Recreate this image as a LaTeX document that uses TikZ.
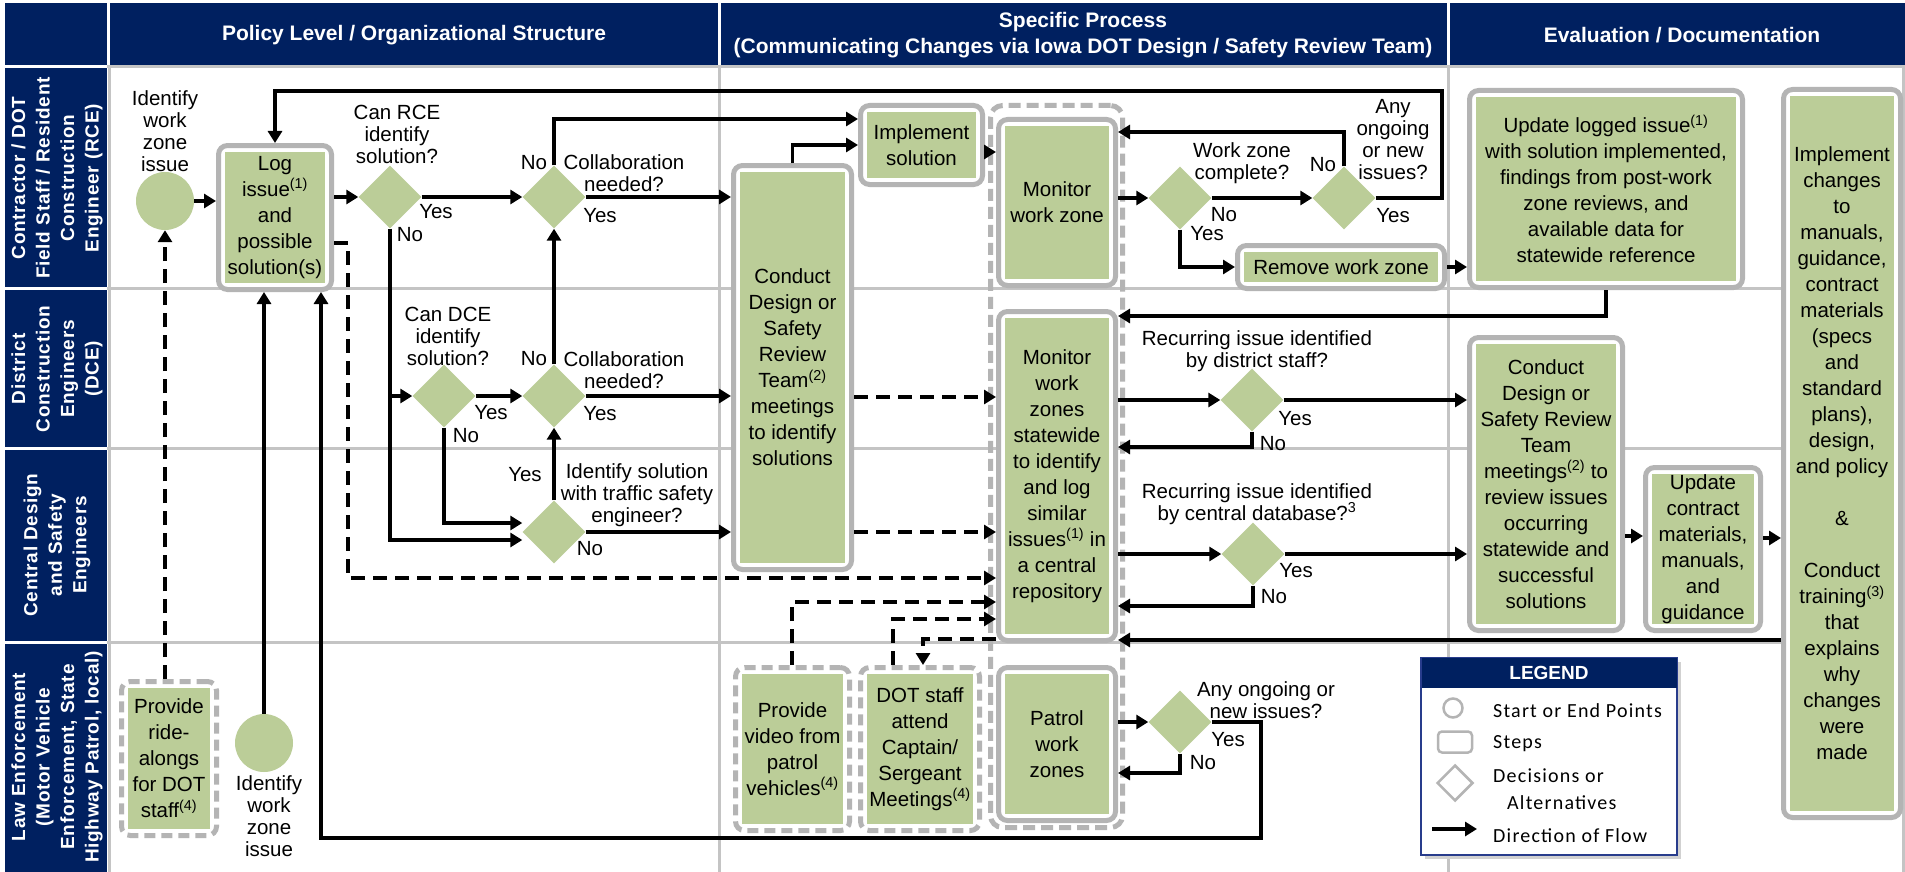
\documentclass[tikz,border=0pt]{standalone}
\usepackage{fontspec}
\setmainfont{Liberation Sans}
\newfontfamily\legfont[LetterSpace=6]{Carlito}
\newfontfamily\lanefont[LetterSpace=4]{Liberation Sans}
\usetikzlibrary{arrows.meta,shapes.geometric,calc}
\definecolor{navy}{RGB}{0,32,96}
\definecolor{grn}{RGB}{187,205,152}
\definecolor{bgray}{RGB}{180,180,180}
\definecolor{lgray}{RGB}{196,196,196}
\definecolor{legblue}{RGB}{40,60,140}
\begin{document}
\begin{tikzpicture}[x=1pt,y=-1pt,
  stepbox/.style={rectangle, draw=bgray, line width=5pt, fill=white, rounded corners=9pt,
    inner sep=0pt, align=center, font=\fontsize{20.5}{26}\selectfont,
    path picture={\fill[grn, sharp corners] ([shift={(6.5pt,6.5pt)}]path picture bounding box.south west)
      rectangle ([shift={(-6.5pt,-6.5pt)}]path picture bounding box.north east);}},
  dashbox/.style={stepbox, dash pattern=on 11pt off 6pt},
  grpbox/.style={rectangle, draw=bgray, line width=5pt, dash pattern=on 12pt off 6pt, rounded corners=12pt, inner sep=0pt},
  decision/.style={diamond, fill=grn, minimum width=63pt, minimum height=63pt, inner sep=0pt},
  startpt/.style={circle, fill=grn, minimum size=58pt, inner sep=0pt},
  lbl/.style={align=center, inner sep=0pt, font=\fontsize{20.5}{22}\selectfont},
  yn/.style={inner sep=0pt, font=\fontsize{20.5}{22}\selectfont},
  flow/.style={line width=3.5pt, -{Triangle[length=12pt,width=14pt]}},
  dflow/.style={flow, dash pattern=on 14pt off 8pt},
  lanelbl/.style={rotate=90, text=white, align=center, inner sep=0pt, font=\lanefont\bfseries\fontsize{19}{24.5}\selectfont},
  hdr/.style={text=white, align=center, inner sep=0pt, font=\bfseries\fontsize{21}{26}\selectfont},
  legtxt/.style={anchor=west, inner sep=0pt, font=\legfont\fontsize{20}{22}\selectfont},
  legsym/.style={draw=bgray, line width=2.5pt, inner sep=0pt}
]
\useasboundingbox (0,0) rectangle (1905,872);
\fill[white] (0,0) rectangle (1905,872);

% ---------- header band ----------
\fill[navy] (5,3) rectangle (1905,65);
\draw[white, line width=3pt] (108.5,3) -- (108.5,65) (719,3) -- (719,65) (1448,3) -- (1448,65);
\node[hdr] (h1) at (414,35) {Policy Level / Organizational Structure};
\node[hdr] (h2) at (1083,35) {Specific Process\\(Communicating Changes via Iowa DOT Design / Safety Review Team)};
\node[hdr] (h3) at (1682,35) {Evaluation / Documentation};

% ---------- lanes ----------
\fill[navy] (5,68) rectangle (107,287);
\fill[navy] (5,290) rectangle (107,447);
\fill[navy] (5,450) rectangle (107,641);
\fill[navy] (5,644) rectangle (107,872);
\draw[lgray, line width=3pt] (107,67) -- (1905,67) (107,288.5) -- (1905,288.5)
  (107,448.5) -- (1905,448.5) (107,642.5) -- (1905,642.5);
\draw[lgray, line width=3pt] (109.5,65) -- (109.5,872) (719,65) -- (719,872)
  (1448,65) -- (1448,872) (1903,65) -- (1903,872);
\begin{scope}
\clip (5,66) rectangle (107,872);
\node[lanelbl] (ln1) at (57,178) {Contractor / DOT\\Field Staff / Resident\\Construction\\Engineer (RCE)};
\node[lanelbl] (ln2) at (57,369) {District\\Construction\\Engineers\\(DCE)};
\node[lanelbl] (ln3) at (57,545) {Central Design\\and Safety\\Engineers};
\node[lanelbl] (ln4) at (57,757) {Law Enforcement\\(Motor Vehicle\\Enforcement, State\\Highway Patrol, local)};
\end{scope}

% ---------- group container ----------
\node[grpbox, minimum width=132pt, minimum height=722pt] (grp) at (1056.5,466.5) {};

% ---------- steps ----------
\node[stepbox, minimum width=113pt, minimum height=144pt] (log) at (275,217.5) {Log\\issue\textsuperscript{(1)}\\and\\possible\\solution(s)};
\node[stepbox, minimum width=122pt, minimum height=79pt] (impl) at (921.5,145) {Implement\\solution};
\node[stepbox, minimum width=118pt, minimum height=404pt] (cdsr) at (792.5,367.5) {Conduct\\Design or\\Safety\\Review\\Team\textsuperscript{(2)}\\meetings\\to identify\\solutions};
\node[stepbox, minimum width=117pt, minimum height=166pt] (monwz) at (1057,202.5) {Monitor\\work zone};
\node[stepbox, minimum width=207pt, minimum height=43pt] (remove) at (1341,267) {Remove work zone};
\node[stepbox, minimum width=273pt, minimum height=197pt] (update) at (1606,189) {Update logged issue\textsuperscript{(1)}\\with solution implemented,\\findings from post-work\\zone reviews, and\\available data for\\statewide reference};
\node[stepbox, minimum width=117pt, minimum height=728pt] (implchg) at (1842,453.5) {Implement\\changes\\to\\manuals,\\guidance,\\contract\\materials\\(specs\\and\\standard\\plans),\\design,\\and policy\\[26pt]\&\\[26pt]Conduct\\training\textsuperscript{(3)}\\that\\explains\\why\\changes\\were\\made};
\node[stepbox, minimum width=117pt, minimum height=329pt] (monsw) at (1057,476) {Monitor\\work\\zones\\statewide\\to identify\\and log\\similar\\issues\textsuperscript{(1)} in\\a central\\repository};
\node[stepbox, minimum width=153pt, minimum height=293pt] (cdsr2) at (1546,484) {Conduct\\Design or\\Safety Review\\Team\\meetings\textsuperscript{(2)} to\\review issues\\occurring\\statewide and\\successful\\solutions};
\node[stepbox, minimum width=115pt, minimum height=163pt] (updcon) at (1703,549) {Update\\contract\\materials,\\manuals,\\and\\guidance};
\node[dashbox, minimum width=95pt, minimum height=154pt] (ride) at (169,758.5) {Provide\\ride-\\alongs\\for DOT\\staff\textsuperscript{(4)}};
\node[dashbox, minimum width=114pt, minimum height=163pt] (video) at (792.5,749) {Provide\\video from\\patrol\\vehicles\textsuperscript{(4)}};
\node[dashbox, minimum width=119pt, minimum height=163pt] (dotst) at (920,749) {DOT staff\\attend\\Captain/\\Sergeant\\Meetings\textsuperscript{(4)}};
\node[stepbox, minimum width=117pt, minimum height=153pt] (patrol) at (1057,744) {Patrol\\work\\zones};

% ---------- start points ----------
\node[startpt] (s1) at (165,201) {};
\node[startpt] (s2) at (264,743) {};
\node[lbl] (ls1) at (165,131) {Identify\\work\\zone\\issue};
\node[lbl] (ls2) at (269,816) {Identify\\work\\zone\\issue};

% ---------- decisions ----------
\node[decision] (drce) at (390,197) {};
\node[decision] (dcol1) at (554,197) {};
\node[decision] (ddce) at (444,396) {};
\node[decision] (dcol2) at (554,396) {};
\node[decision] (dtraf) at (554,532) {};
\node[decision] (dwzc) at (1180,198) {};
\node[decision] (dany1) at (1344,198) {};
\node[decision] (drec1) at (1252,400) {};
\node[decision] (drec2) at (1253,554) {};
\node[decision] (dany2) at (1180,722) {};

\node[lbl] (lrce) at (397,134) {Can RCE\\identify\\solution?};
\node[lbl] (lcol1) at (624,173) {Collaboration\\needed?};
\node[lbl] (ldce) at (448,336) {Can DCE\\identify\\solution?};
\node[lbl] (lcol2) at (624,370) {Collaboration\\needed?};
\node[lbl] (ltraf) at (637,495) {Identify solution\\with traffic safety\\engineer?};
\node[lbl] (lwzc) at (1242,163) {Work zone\\complete?};
\node[lbl] (lany1) at (1393,140) {Any\\ongoing\\or new\\issues?};
\node[lbl] (lrec1) at (1257,351) {Recurring issue identified\\by district staff?};
\node[lbl] (lrec2) at (1257,504) {Recurring issue identified\\by central database?\textsuperscript{3}};
\node[lbl] (lany2) at (1266,700) {Any ongoing or\\new issues?};

\node[yn] (y1) at (436,212) {Yes};
\node[yn] (n1) at (410,235) {No};
\node[yn] (n2) at (534,163) {No};
\node[yn] (y2) at (600,216) {Yes};
\node[yn] (y3) at (491,413) {Yes};
\node[yn] (n3) at (466,436) {No};
\node[yn] (n4) at (534,359) {No};
\node[yn] (y4) at (600,414) {Yes};
\node[yn] (y5) at (525,475) {Yes};
\node[yn] (n5) at (590,549) {No};
\node[yn] (n6) at (1224,215) {No};
\node[yn] (y6) at (1207,234) {Yes};
\node[yn] (n7) at (1323,165) {No};
\node[yn] (y7) at (1393,216) {Yes};
\node[yn] (y8) at (1295,419) {Yes};
\node[yn] (n8) at (1273,444) {No};
\node[yn] (y9) at (1296,571) {Yes};
\node[yn] (n9) at (1274,597) {No};
\node[yn] (y10) at (1228,740) {Yes};
\node[yn] (n10) at (1203,763) {No};

% ---------- bend points ----------
\coordinate (c1) at (554,119);
\coordinate (c2) at (1344,132);
\coordinate (c3) at (1442,91);
\coordinate (c4) at (1606,316);
\coordinate (c5) at (1700,640);
\coordinate (c6) at (390,540);
\coordinate (c7) at (444,523);
\coordinate (c8) at (348,243);
\coordinate (c9) at (348,578);
\coordinate (c10) at (900,397);
\coordinate (c11) at (900,532);
\coordinate (c12) at (1252,447);
\coordinate (c13) at (1253,606);
\coordinate (c14) at (1634,536);
\coordinate (c15) at (1772,538);
\coordinate (c16) at (1261,838);
\coordinate (c17) at (321,838);
\coordinate (c18) at (792,602);
\coordinate (c19) at (893,619);
\coordinate (c20) at (923,639);
\coordinate (c21) at (1180,773);

% ---------- connectors: lane 1 ----------
\draw[flow] (s1.east) -- (s1.east -| log.west);
\draw[flow] (log.east |- drce) -- (drce.west);
\draw[flow] (drce.east) -- (dcol1.west);
\draw[flow] (dcol1.north) -- (c1) -- (c1 -| impl.west);
\draw[flow] (dcol1.east) -- (dcol1.east -| cdsr.west);
\draw[flow] (cdsr.north) |- (impl.west);
\draw[flow] ([yshift=-7pt]impl.east) -- ([yshift=-7pt]impl.east -| monwz.west);
\draw[flow] (monwz.east |- dwzc) -- (dwzc.west);
\draw[flow] (dwzc.east) -- (dany1.west);
\draw[flow] (dany1.north) -- (c2) -- (c2 -| monwz.east);
\draw[flow] (dany1.east) -| (c3) -| (log.north);
\draw[flow] (dwzc.south) |- (remove.west);
\draw[flow] (remove.east) -- (remove.east -| update.west);
\draw[flow] (update.south) -- (c4) -- (c4 -| monsw.east);
\draw[flow] (c5 -| implchg.west) -- (c5 -| monsw.east);

% ---------- connectors: lanes 2-3 ----------
\draw[flow] (drce.south) -- (c6) -- (c6 -| dtraf.west);
\draw[flow] (drce.south |- ddce) -- (ddce.west);
\draw[flow] (ddce.east) -- (dcol2.west);
\draw[flow] (ddce.south) -- (c7) -- (c7 -| dtraf.west);
\draw[flow] (dcol2.north) -- (dcol1.south);
\draw[flow] (dcol2.east) -- (dcol2.east -| cdsr.west);
\draw[flow] (dtraf.north) -- (dcol2.south);
\draw[flow] (dtraf.east) -- (dtraf.east -| cdsr.west);
\draw[dflow] (c8 -| log.east) -- (c8) -- (c9) -- (c9 -| monsw.west);
\draw[dflow] (c10 -| cdsr.east) -- (c10 -| monsw.west);
\draw[dflow] (c11 -| cdsr.east) -- (c11 -| monsw.west);
\draw[flow] (monsw.east |- drec1) -- (drec1.west);
\draw[flow] (drec1.south) -- (c12) -- (c12 -| monsw.east);
\draw[flow] (drec1.east) -- (drec1.east -| cdsr2.west);
\draw[flow] (monsw.east |- drec2) -- (drec2.west);
\draw[flow] (drec2.south) -- (c13) -- (c13 -| monsw.east);
\draw[flow] (drec2.east) -- (drec2.east -| cdsr2.west);
\draw[flow] (c14 -| cdsr2.east) -- (c14 -| updcon.west);
\draw[flow] (c15 -| updcon.east) -- (c15 -| implchg.west);

% ---------- connectors: lane 4 ----------
\draw[dflow] (s1.south |- ride.north) -- (s1.south);
\draw[flow] (s2.north) -- (s2.north |- log.south);
\draw[flow] (dany2.east) -| (c16) -- (c17) -- (c17 |- log.south);
\draw[dflow] (c18 |- video.north) -- (c18) -- (c18 -| monsw.west);
\draw[dflow] (c19 |- dotst.north) -- (c19) -- (c19 -| monsw.west);
\draw[dflow] (c20 -| monsw.west) -- (c20) -- (c20 |- dotst.north);
\draw[flow] (patrol.east |- dany2) -- (dany2.west);
\draw[flow] (dany2.south) -- (c21) -- (c21 -| patrol.east);

% ---------- legend ----------
\fill[black!18] (1425,662) rectangle (1681,859);
\node[draw=legblue, line width=2pt, fill=white, minimum width=256pt, minimum height=197pt, inner sep=0pt] (leg) at (1549,756.5) {};
\node[fill=navy, minimum width=255pt, minimum height=30pt, inner sep=0pt, text=white, font=\bfseries\fontsize{19}{20}\selectfont] (leghd) at (1549,673) {LEGEND};
\node[legsym, circle, minimum size=19pt] (lgc) at (1453,708) {};
\node[legsym, rectangle, rounded corners=4pt, minimum width=34pt, minimum height=21pt] (lgr) at (1455,742) {};
\node[legsym, diamond, minimum width=36pt, minimum height=36pt] (lgd) at (1455,783) {};
\coordinate (lga1) at (1432,829);
\coordinate (lga2) at (1477,829);
\draw[flow] (lga1) -- (lga2);
\node[legtxt] (lt1) at (1493,711) {Start or End Points};
\node[legtxt] (lt2) at (1493,744) {Steps};
\node[legtxt] (lt3) at (1493,776) {Decisions or};
\node[legtxt] (lt4) at (1507,803) {Alternatives};
\node[legtxt] (lt5) at (1493,836) {Direction of Flow};
\end{tikzpicture}
\end{document}
